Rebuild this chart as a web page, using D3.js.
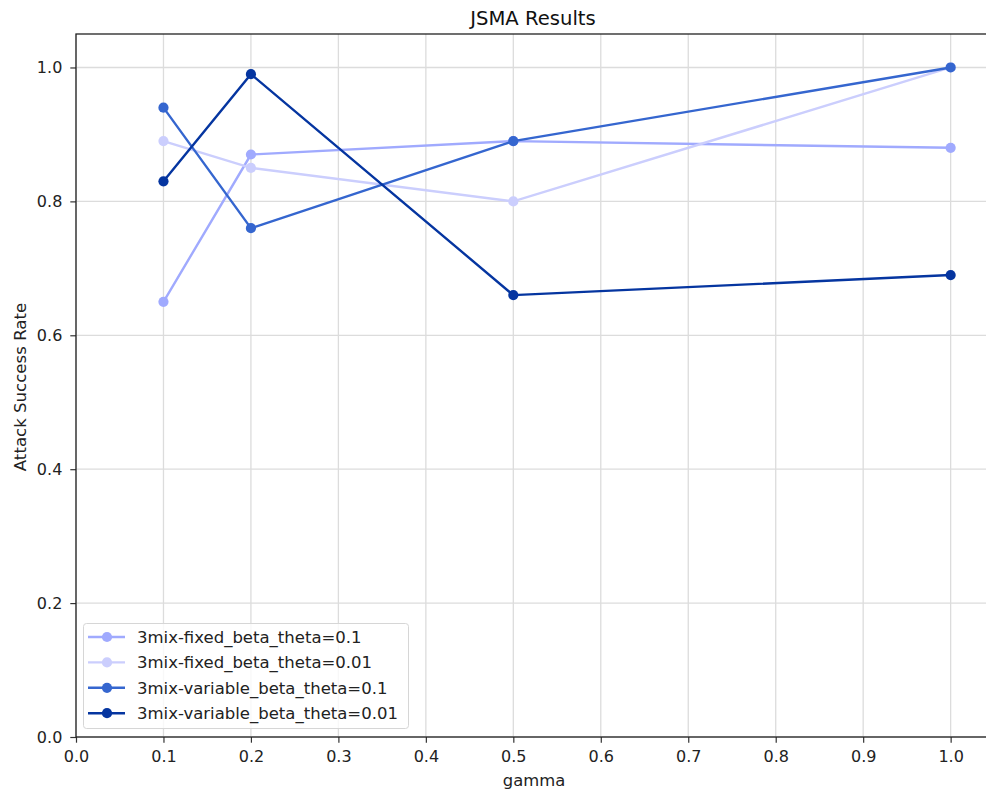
<!DOCTYPE html>
<html><head><meta charset="utf-8">
<script src="https://cdn.jsdelivr.net/npm/d3@7"></script>
<style>body{margin:0;background:#fff;} text{font-family:"DejaVu Sans",sans-serif;}</style>
</head><body><svg id="c" width="986" height="793"></svg>
<script>
const gammas = [0.1, 0.2, 0.5, 1.0];
const seriesNames = ["3mix-fixed_beta_theta=0.1","3mix-fixed_beta_theta=0.01","3mix-variable_beta_theta=0.1","3mix-variable_beta_theta=0.01"];
const fixed01 = [0.65, 0.87, 0.89, 0.88];
const fixed001 = [0.89, 0.85, 0.80, 1.00];
const variable01 = [0.94, 0.76, 0.89, 1.00];
const variable001 = [0.83, 0.99, 0.66, 0.69];
const colors = ["#a0aafe", "#cbcefd", "#3566cf", "#0535a0"];
const xTicks = [0,0.1,0.2,0.3,0.4,0.5,0.6,0.7,0.8,0.9,1.0];
const yTicks = [0,0.2,0.4,0.6,0.8,1.0];
const series = [fixed01, fixed001, variable01, variable001];

const svg = d3.select("#c");
const L=76, R=990, T=34, B=737;
const x = d3.scaleLinear().domain([0,1.045]).range([L,R]);
const y = d3.scaleLinear().domain([0,1.05]).range([B,T]);
const FS = "16.4px";

// grid
svg.append("g").selectAll("line").data(xTicks).join("line")
  .attr("x1",d=>x(d)).attr("x2",d=>x(d)).attr("y1",T).attr("y2",B)
  .attr("stroke","#dcdcdc").attr("stroke-width",1.3);
svg.append("g").selectAll("line").data(yTicks).join("line")
  .attr("x1",L).attr("x2",R).attr("y1",d=>y(d)).attr("y2",d=>y(d))
  .attr("stroke","#dcdcdc").attr("stroke-width",1.3);

// axes
const xa = svg.append("g").attr("transform",`translate(0,${B})`)
  .call(d3.axisBottom(x).tickValues(xTicks).tickFormat(d3.format(".1f")).tickSizeInner(5.7).tickSizeOuter(0).tickPadding(7.5));
const ya = svg.append("g").attr("transform",`translate(${L},0)`)
  .call(d3.axisLeft(y).tickValues(yTicks).tickFormat(d3.format(".1f")).tickSizeInner(5.7).tickSizeOuter(0).tickPadding(8));
[xa,ya].forEach(a=>{a.selectAll("text").attr("font-size","16px").attr("fill","#222").attr("font-family","DejaVu Sans");
  a.selectAll("line").attr("stroke","#333").attr("stroke-width",1.2); a.select(".domain").remove();});
// frame
svg.append("rect").attr("x",L).attr("y",T).attr("width",R-L).attr("height",B-T)
  .attr("fill","none").attr("stroke","#222").attr("stroke-width",1.3);

// lines
const line = d3.line().x((d,i)=>x(gammas[i])).y(d=>y(d));
series.forEach((s,k)=>{
  const g = svg.append("g");
  g.append("path").datum(s).attr("d",line).attr("fill","none").attr("stroke",colors[k]).attr("stroke-width",2.4);
  g.selectAll("circle").data(s).join("circle").attr("cx",(d,i)=>x(gammas[i])).attr("cy",d=>y(d)).attr("r",5.1).attr("fill",colors[k]);
});

// title & labels
svg.append("text").attr("x",(L+R)/2).attr("y",25).attr("text-anchor","middle").attr("font-size","19.6px").attr("fill","#111").text("JSMA Results");
svg.append("text").attr("x",534).attr("y",786).attr("text-anchor","middle").attr("font-size",FS).attr("fill","#222").text("gamma");
svg.append("text").attr("transform",`translate(26,387) rotate(-90)`).attr("text-anchor","middle").attr("font-size","16.6px").attr("fill","#222").text("Attack Success Rate");

// legend
const lg = svg.append("g");
lg.append("rect").attr("x",83.5).attr("y",623.5).attr("width",325).attr("height",105).attr("rx",3)
  .attr("fill","#fff").attr("fill-opacity",0.8).attr("stroke","#d6d6d6");
seriesNames.forEach((n,k)=>{
  const yy = 637 + k*25.4;
  lg.append("line").attr("x1",88).attr("x2",125).attr("y1",yy).attr("y2",yy).attr("stroke",colors[k]).attr("stroke-width",2.4);
  lg.append("circle").attr("cx",107).attr("cy",yy).attr("r",5.1).attr("fill",colors[k]);
  lg.append("text").attr("x",137).attr("y",yy+6).attr("font-size","16.5px").attr("fill","#222").text(n);
});
</script></body></html>
